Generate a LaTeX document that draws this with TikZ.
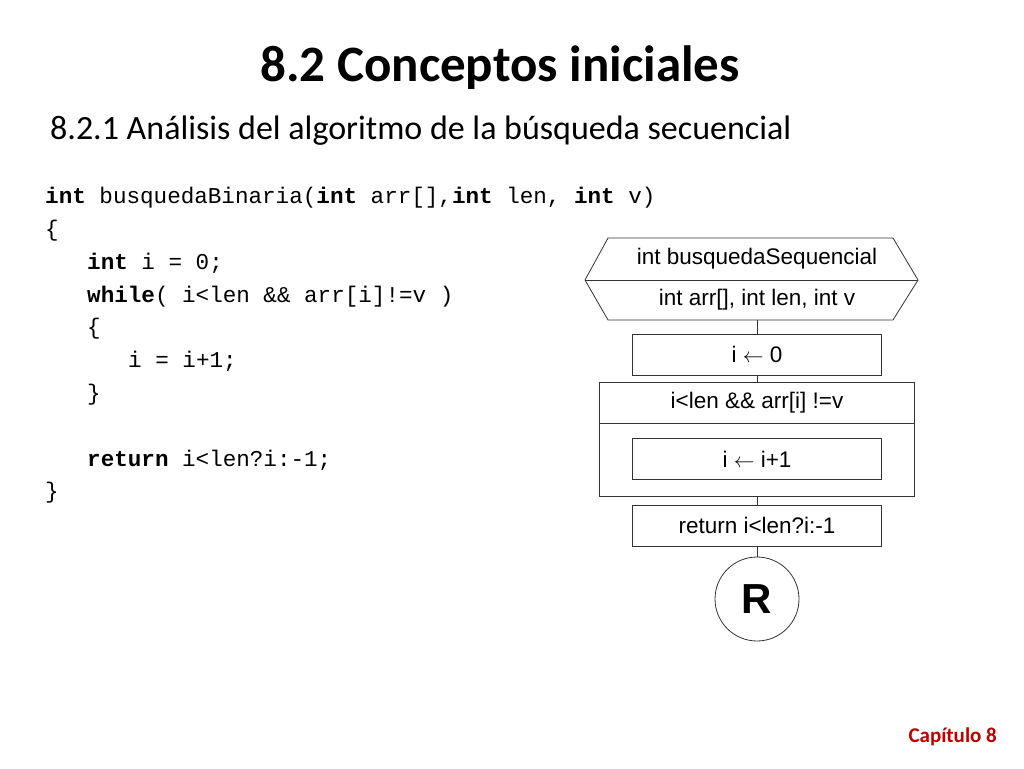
\documentclass[tikz,border=0pt]{standalone}
\usepackage{fontspec}
\setmainfont{Carlito}
\newfontfamily\arialf{Liberation Sans}
\newfontfamily\courf{Liberation Mono}
\begin{document}
\begin{tikzpicture}[x=1pt,y=-1pt,
  fc/.style={draw=black!80,line width=0.8pt},
  fbox/.style={fc,minimum width=249pt,minimum height=41pt,inner sep=0pt,font=\arialf\fontsize{22.5}{22.5}\selectfont},
  ftxt/.style={font=\arialf\fontsize{22.5}{22.5}\selectfont,inner sep=0pt},
  code/.style={anchor=base west,inner sep=0pt,font=\courf\fontsize{22.6}{23}\selectfont}]
\useasboundingbox (0,0) rectangle (1024,768);
\node (title) at (500,68) {\fontsize{51}{51}\selectfont\bfseries 8.2 Conceptos iniciales};
\node[anchor=west,inner sep=0pt] (sub) at (50,131) {\fontsize{34}{34}\selectfont 8.2.1 Análisis del algoritmo de la búsqueda secuencial};
\node[code] (c1) at (45,203) {\textbf{int} busquedaBinaria(\textbf{int} arr[],\textbf{int} len, \textbf{int} v)};
\node[code] (c2) at (45,236) {\{};
\node[code] (c3) at (87,269) {\textbf{int} i = 0;};
\node[code] (c4) at (87,302) {\textbf{while}( i<len \&\& arr[i]!=v )};
\node[code] (c5) at (87,334) {\{};
\node[code] (c6) at (128,367) {i = i+1;};
\node[code] (c7) at (87,400) {\}};
\node[code] (c8) at (87,466) {\textbf{return} i<len?i:-1;};
\node[code] (c9) at (45,498) {\}};
% hexagon
\draw[fc] (608,238) -- (893,238) -- (918,280) -- (893,320) -- (608,320) -- (585,280) -- cycle;
\draw[fc] (585,280) -- (918,280);
\node[ftxt] (h1) at (757,259) {int busquedaSequencial};
\node[ftxt] (h2) at (757,300) {int arr[], int len, int v};
\coordinate (hb) at (757,320);
\node[fbox] (b0) at (757,354.5) {i $\leftarrow$ 0};
\draw[fc] (599,382) rectangle (914,496);
\draw[fc] (599,423) -- (914,423);
\coordinate (lt) at (757,382);
\coordinate (lb) at (757,496);
\node[ftxt] (cond) at (757,403) {i<len \&\& arr[i] !=v};
\node[fbox] (b1) at (757,459) {i $\leftarrow$ i+1};
\node[fbox] (b2) at (757,525.5) {return i<len?i:-1};
\node[fc,circle,minimum size=84pt,inner sep=0pt,font=\arialf\bfseries\fontsize{42}{42}\selectfont] (r) at (757,599) {R};
\draw[fc] (hb) -- (b0.north);
\draw[fc] (b0.south) -- (lt);
\draw[fc] (lb) -- (b2.north);
\draw[fc] (b2.south) -- (r.north);
\node[anchor=east,inner sep=0pt,text=red!75!black] (cap) at (997,737) {\fontsize{21}{21}\selectfont\bfseries Capítulo 8};
\end{tikzpicture}
\end{document}
